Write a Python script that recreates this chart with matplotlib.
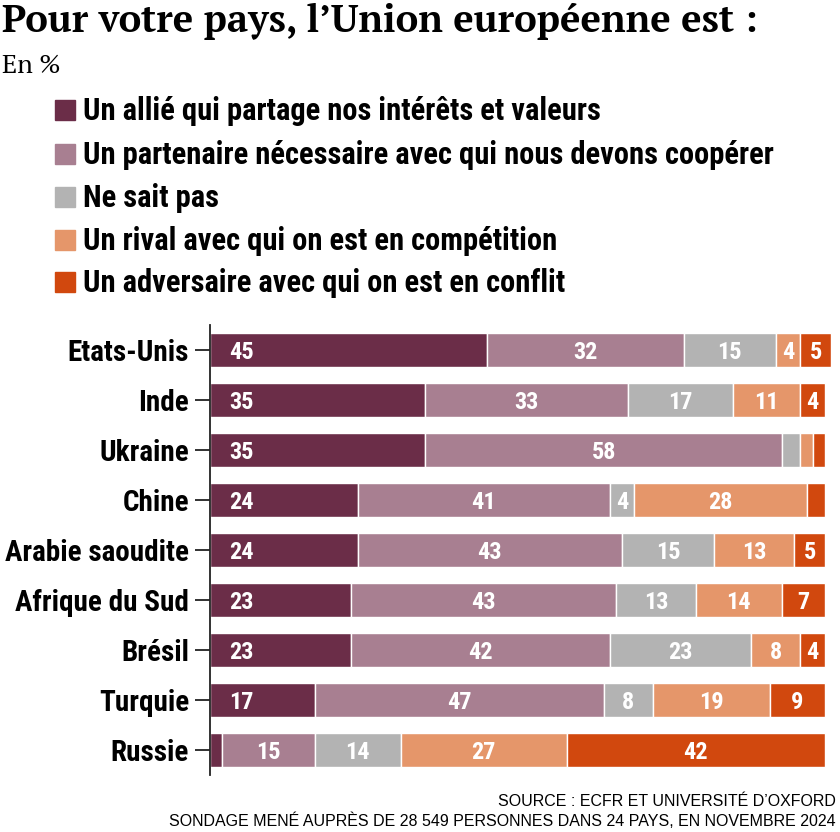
import matplotlib
matplotlib.use("Agg")
import matplotlib.pyplot as plt
import numpy as np

countries = ["Etats-Unis", "Inde", "Ukraine", "Chine", "Arabie saoudite",
             "Afrique du Sud", "Brésil", "Turquie", "Russie"]
allie = [45, 35, 35, 24, 24, 23, 23, 17, 2]
partenaire = [32, 33, 58, 41, 43, 43, 42, 47, 15]
nsp = [15, 17, 3, 4, 15, 13, 23, 8, 14]
rival = [4, 11, 2, 28, 13, 14, 8, 19, 27]
adversaire = [5, 4, 2, 3, 5, 7, 4, 9, 42]

series_labels = ["Un allié qui partage nos intérêts et valeurs",
                 "Un partenaire nécessaire avec qui nous devons coopérer",
                 "Ne sait pas",
                 "Un rival avec qui on est en compétition",
                 "Un adversaire avec qui on est en conflit"]
colors = ["#6B2D48", "#A87F91", "#B3B3B3", "#E5966A", "#D1480E"]

cond = ["Roboto Condensed", "Roboto", "DejaVu Sans"]
serif = ["PT Serif", "Liberation Serif", "DejaVu Serif"]
sans = ["Liberation Sans", "DejaVu Sans"]

fig = plt.figure(figsize=(8.4, 8.32), dpi=100)
ax = fig.add_axes([210/840, 1-775/832, (833-210)/840, (775-325)/832])

data = [allie, partenaire, nsp, rival, adversaire]
y = np.arange(len(countries))
left = np.zeros(len(countries))
for si, (vals, c) in enumerate(zip(data, colors)):
    vals = np.array(vals, dtype=float)
    ax.barh(y, vals, left=left, height=0.69, color=c, edgecolor="white", linewidth=1)
    for yi, (l, v) in enumerate(zip(left, vals)):
        if v >= 4:
            if si == 0:
                ax.annotate(f"{int(v)}", (l, yi), xytext=(14, -1.5), textcoords="offset points",
                            xycoords="data", ha="left", va="center", color="white",
                            fontsize=17.5, fontweight="bold", family=cond)
            else:
                ax.annotate(f"{int(v)}", (l + v/2, yi), xytext=(0, -1.5), textcoords="offset points",
                            xycoords="data", ha="center", va="center", color="white",
                            fontsize=17.5, fontweight="bold", family=cond)
    left += vals

ax.set_xlim(0, 101.3)
ax.set_ylim(len(countries) - 0.5, -0.5)
ax.set_yticks(y)
ax.set_yticklabels(countries, fontsize=21, fontweight="bold", family=cond)
ax.tick_params(axis="y", length=11, width=1.3, pad=4, color="#222222")
ax.set_xticks([])
for s in ["top", "right", "bottom"]:
    ax.spines[s].set_visible(False)
ax.spines["left"].set_linewidth(1.3)
ax.spines["left"].set_color("#222222")

fig.text(0.002, 1-22/832, "Pour votre pays, l\u2019Union européenne est :", fontsize=27.5,
         fontweight="bold", family=serif, va="center", ha="left")
fig.text(0.002, 1-66/832, "En %", fontsize=19, family=serif,
         va="center", ha="left")

leg_y = [110, 154, 197, 240, 282]
for ly, lab, c in zip(leg_y, series_labels, colors):
    fig.patches.append(plt.Rectangle((55/840, 1-(ly+10)/832), 20/840, 20/832,
                                     transform=fig.transFigure, color=c))
    fig.text(83/840, 1-(ly+1)/832, lab, fontsize=22, fontweight="bold", family=cond,
             va="center", ha="left")

fig.text(836/840, 1-801/832, "SOURCE : ECFR ET UNIVERSITÉ D\u2019OXFORD", fontsize=11.5,
         family=sans, ha="right", va="center")
fig.text(836/840, 1-821/832, "SONDAGE MENÉ AUPRÈS DE 28 549 PERSONNES DANS 24 PAYS, EN NOVEMBRE 2024",
         fontsize=11.5, family=sans, ha="right", va="center")

fig.savefig("out.png", dpi=100)
